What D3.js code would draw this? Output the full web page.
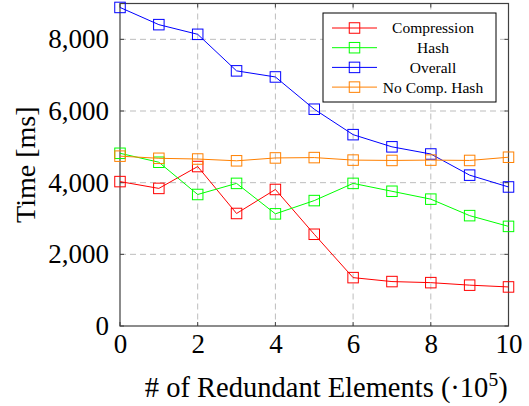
<!DOCTYPE html>
<html>
<head>
<meta charset="utf-8">
<script src="https://cdn.jsdelivr.net/npm/d3@7"></script>
<style>
  body { margin: 0; background: #fff; }
</style>
</head>
<body>
<div id="chart"></div>
<script>
// x values (·10^5 redundant elements)
const xValues = [0, 1, 2, 3, 4, 5, 6, 7, 8, 9, 10];

// times in ms
const compression = [4030, 3840, 4450, 3140, 3810, 2560, 1350, 1240, 1210, 1140, 1090];
const hash = [4820, 4570, 3670, 3980, 3130, 3500, 3980, 3760, 3540, 3080, 2780];
const overall = [8890, 8410, 8140, 7120, 6950, 6050, 5340, 5000, 4800, 4210, 3880];
const noCompHash = [4740, 4680, 4660, 4610, 4690, 4700, 4630, 4620, 4630, 4620, 4710];

const seriesNames = ["Compression", "Hash", "Overall", "No Comp. Hash"];
const seriesColors = ["#ff0000", "#00ff00", "#0000ff", "#ff8000"];
const seriesValues = [compression, hash, overall, noCompHash];

const xTicks = [0, 2, 4, 6, 8, 10];
const yTicks = [0, 2000, 4000, 6000, 8000];

const FONT = "'Liberation Serif', 'Times New Roman', Times, serif";

const W = 529, H = 406;
const margin = { top: 3.5, right: 20.5, bottom: 80, left: 120 };
const width = W - margin.left - margin.right;
const height = H - margin.top - margin.bottom;

const svg = d3.select("#chart")
    .append("svg")
    .attr("width", W)
    .attr("height", H);

const g = svg.append("g")
    .attr("transform", `translate(${margin.left},${margin.top})`);

// Echelles
const x = d3.scaleLinear().domain([0, 10]).range([0, width]);
const y = d3.scaleLinear().domain([0, 9000]).range([height, 0]);

// grille pointillée
g.append("g")
    .selectAll("line")
    .data(xTicks.slice(1, -1))
    .enter()
    .append("line")
    .attr("x1", d => x(d)).attr("x2", d => x(d))
    .attr("y1", 0).attr("y2", height)
    .attr("stroke", "#bdbdbd")
    .attr("stroke-dasharray", "6,4");

g.append("g")
    .selectAll("line")
    .data(yTicks.slice(1))
    .enter()
    .append("line")
    .attr("x1", 0).attr("x2", width)
    .attr("y1", d => y(d)).attr("y2", d => y(d))
    .attr("stroke", "#bdbdbd")
    .attr("stroke-dasharray", "6,4");

// Axes
const xAxis = g.append("g")
    .attr("transform", `translate(0,${height})`)
    .call(d3.axisBottom(x).tickValues(xTicks).tickSize(0).tickPadding(8).tickFormat(d3.format("d")))
    .attr("font-family", FONT)
    .attr("font-size", 27);
xAxis.select(".domain").remove();
xAxis.selectAll("text")
    .attr("dy", "0.71em");

const yAxis = g.append("g")
    .call(d3.axisLeft(y).tickValues(yTicks).tickSize(0).tickPadding(11).tickFormat(d3.format(",")))
    .attr("font-family", FONT)
    .attr("font-size", 27);
yAxis.select(".domain").remove();

// petits ticks intérieurs
g.append("g").selectAll("line")
    .data(yTicks)
    .enter().append("line")
    .attr("x1", 0).attr("x2", 4)
    .attr("y1", d => y(d)).attr("y2", d => y(d))
    .attr("stroke", "#404040");
g.append("g").selectAll("line")
    .data(yTicks)
    .enter().append("line")
    .attr("x1", width - 4).attr("x2", width)
    .attr("y1", d => y(d)).attr("y2", d => y(d))
    .attr("stroke", "#404040");
g.append("g").selectAll("line")
    .data(xTicks)
    .enter().append("line")
    .attr("x1", d => x(d)).attr("x2", d => x(d))
    .attr("y1", height - 4).attr("y2", height)
    .attr("stroke", "#404040");
g.append("g").selectAll("line")
    .data(xTicks)
    .enter().append("line")
    .attr("x1", d => x(d)).attr("x2", d => x(d))
    .attr("y1", 0).attr("y2", 4)
    .attr("stroke", "#404040");

// cadre
g.append("rect")
    .attr("x", 0).attr("y", 0)
    .attr("width", width).attr("height", height)
    .attr("fill", "none")
    .attr("stroke", "#404040")
    .attr("stroke-width", 1.2);

// Courbes
const line = d3.line()
    .x((d, i) => x(xValues[i]))
    .y(d => y(d));

const ms = 10.5; // taille des carrés
seriesValues.forEach((vals, k) => {
    g.append("path")
        .datum(vals)
        .attr("fill", "none")
        .attr("stroke", seriesColors[k])
        .attr("stroke-width", 1)
        .attr("d", line);

    g.append("g")
        .selectAll("rect")
        .data(vals)
        .enter()
        .append("rect")
        .attr("x", (d, i) => x(xValues[i]) - ms / 2)
        .attr("y", d => y(d) - ms / 2)
        .attr("width", ms)
        .attr("height", ms)
        .attr("fill", "none")
        .attr("stroke", seriesColors[k])
        .attr("stroke-width", 1);
});

// Titres des axes
svg.append("text")
    .attr("x", margin.left + width / 2 + 12)
    .attr("y", 397)
    .attr("text-anchor", "middle")
    .attr("font-family", FONT)
    .attr("font-size", 28.5)
    .html('# of Redundant Elements (·10<tspan dy="-11" font-size="19.5">5</tspan><tspan dy="11">)</tspan>');

svg.append("text")
    .attr("transform", `translate(35,${margin.top + height / 2}) rotate(-90)`)
    .attr("text-anchor", "middle")
    .attr("font-family", FONT)
    .attr("font-size", 28)
    .text("Time [ms]");

// Légende
const legend = svg.append("g")
    .attr("transform", "translate(323,13)");

legend.append("rect")
    .attr("width", 173)
    .attr("height", 89)
    .attr("fill", "#fff")
    .attr("stroke", "#000")
    .attr("stroke-width", 1);

seriesNames.forEach((name, k) => {
    const ly = 15 + k * 19.7;
    legend.append("line")
        .attr("x1", 9).attr("x2", 54)
        .attr("y1", ly).attr("y2", ly)
        .attr("stroke", seriesColors[k]);
    legend.append("rect")
        .attr("x", 31.5 - ms / 2).attr("y", ly - ms / 2)
        .attr("width", ms).attr("height", ms)
        .attr("fill", "none")
        .attr("stroke", seriesColors[k]);
    legend.append("text")
        .attr("x", 110)
        .attr("y", ly)
        .attr("dy", "0.35em")
        .attr("text-anchor", "middle")
        .attr("font-family", FONT)
        .attr("font-size", 15.5)
        .text(name);
});
</script>
</body>
</html>
